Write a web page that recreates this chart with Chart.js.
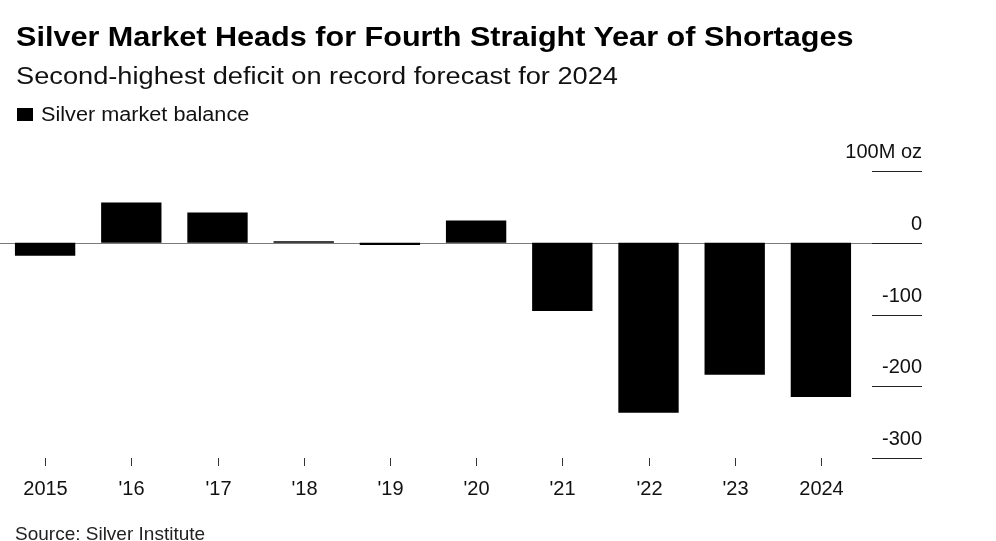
<!DOCTYPE html>
<html>
<head>
<meta charset="utf-8">
<script src="https://cdn.jsdelivr.net/npm/chart.js@4/dist/chart.umd.min.js"></script>
<style>
  html, body { margin: 0; padding: 0; background: #fff; }
  #wrap { position: relative; width: 996px; height: 541px; overflow: hidden; font-family: "Liberation Sans", Arial, sans-serif; color: #000; }
  #c { position: absolute; left: 0; top: 0; }
  .t { position: absolute; white-space: nowrap; line-height: 1; transform-origin: 0 0; }
  #title { left: 16px; top: 24px; font-size: 27px; font-weight: bold; transform: scaleX(1.133); }
  #subtitle { left: 16px; top: 64.5px; font-size: 23px; color: #111; transform: scaleX(1.183); }
  #legend { left: 17px; top: 104px; font-size: 20px; color: #111; }
  #legend .sq { display: inline-block; width: 16px; height: 13px; background: #000; margin-right: 8px; vertical-align: 0px; }
  #legend .lt { display: inline-block; transform-origin: 0 0; transform: scaleX(1.083); }
  #source { left: 15px; top: 524px; font-size: 19px; color: #222; }
</style>
</head>
<body>
<div id="wrap">
  <canvas id="c" width="996" height="541"></canvas>
  <div class="t" id="title">Silver Market Heads for Fourth Straight Year of Shortages</div>
  <div class="t" id="subtitle">Second-highest deficit on record forecast for 2024</div>
  <div class="t" id="legend"><span class="sq"></span><span class="lt">Silver market balance</span></div>
  <div class="t" id="source">Source: Silver Institute</div>
</div>
<script>
const categories = ["2015", "'16", "'17", "'18", "'19", "'20", "'21", "'22", "'23", "2024"];
const balance = [-18, 56, 42, 2, -3, 31, -95, -237, -184, -215];
const yTickValues = [100, 0, -100, -200, -300];
const yTickLabels = ["100M oz", "0", "-100", "-200", "-300"];

const overlay = {
  id: 'overlay',
  beforeDatasetsDraw(chart) {
    const ctx = chart.ctx, ys = chart.scales.y, area = chart.chartArea;
    const y0 = Math.round(ys.getPixelForValue(0)) + 0.5;
    ctx.save();
    ctx.strokeStyle = '#7a7a7a';
    ctx.lineWidth = 1;
    ctx.beginPath();
    ctx.moveTo(0, y0);
    ctx.lineTo(area.right + 58, y0);
    ctx.stroke();
    ctx.restore();
  },
  afterDraw(chart) {
    const ctx = chart.ctx, ys = chart.scales.y, xs = chart.scales.x, area = chart.chartArea;
    ctx.save();
    ctx.font = '20px "Liberation Sans", Arial, sans-serif';
    ctx.textAlign = 'right';
    ctx.textBaseline = 'alphabetic';
    yTickValues.forEach((v, i) => {
      const y = Math.round(ys.getPixelForValue(v)) + 0.5;
      ctx.strokeStyle = '#222';
      ctx.lineWidth = 1;
      ctx.beginPath();
      ctx.moveTo(area.right + 8, y);
      ctx.lineTo(area.right + 58, y);
      ctx.stroke();
      ctx.fillStyle = '#111';
      ctx.fillText(yTickLabels[i], area.right + 58, y - 13.5);
    });
    ctx.textAlign = 'center';
    categories.forEach((c, i) => {
      const x = Math.round(xs.getPixelForValue(i)) + 0.5;
      ctx.strokeStyle = '#333';
      ctx.lineWidth = 1;
      ctx.beginPath();
      ctx.moveTo(x, area.bottom);
      ctx.lineTo(x, area.bottom + 8);
      ctx.stroke();
      ctx.fillStyle = '#111';
      ctx.fillText(c, x, area.bottom + 37);
    });
    ctx.restore();
  }
};

new Chart(document.getElementById('c'), {
  type: 'bar',
  data: {
    labels: categories,
    datasets: [{
      label: 'Silver market balance',
      data: balance,
      backgroundColor: '#000',
      borderWidth: 0,
      barPercentage: 0.7,
      categoryPercentage: 1.0
    }]
  },
  options: {
    responsive: false,
    animation: false,
    layout: { padding: { left: 2, top: 171, right: 132, bottom: 83 } },
    plugins: { legend: { display: false }, tooltip: { enabled: false }, title: { display: false } },
    scales: {
      x: { display: false },
      y: { display: false, min: -300, max: 100 }
    }
  },
  plugins: [overlay]
});
</script>
</body>
</html>
